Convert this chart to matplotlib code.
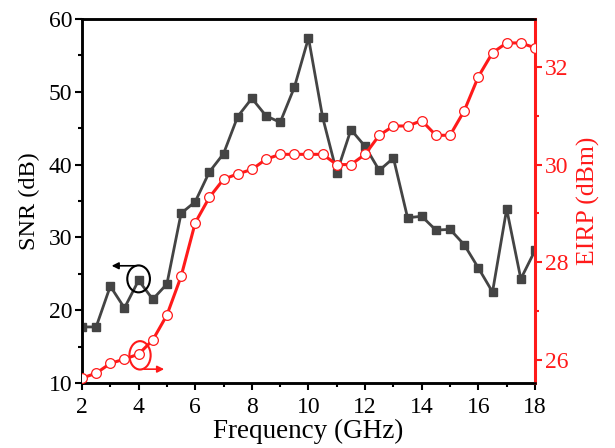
import matplotlib
matplotlib.use("Agg")
import matplotlib.pyplot as plt
from matplotlib.patches import Ellipse

plt.rcParams["font.family"] = ["Liberation Serif", "DejaVu Serif"]

freq = [2.0, 2.5, 3.0, 3.5, 4.0, 4.5, 5.0, 5.5, 6.0, 6.5, 7.0, 7.5, 8.0, 8.5, 9.0, 9.5,
        10.0, 10.5, 11.0, 11.5, 12.0, 12.5, 13.0, 13.5, 14.0, 14.5, 15.0, 15.5, 16.0,
        16.5, 17.0, 17.5, 18.0]
snr = [17.7, 17.7, 23.3, 20.3, 24.1, 21.5, 23.6, 33.3, 34.9, 39.0, 41.5, 46.6, 49.1,
       46.7, 45.8, 50.6, 57.4, 46.5, 38.9, 44.8, 42.5, 39.2, 40.9, 32.7, 32.9, 31.0,
       31.1, 29.0, 25.8, 22.5, 33.9, 24.3, 28.2]
eirp = [25.63, 25.73, 25.93, 26.02, 26.12, 26.41, 26.92, 27.71, 28.81, 29.33, 29.70,
        29.81, 29.90, 30.11, 30.21, 30.21, 30.21, 30.21, 30.00, 30.00, 30.21, 30.60,
        30.79, 30.79, 30.90, 30.60, 30.60, 31.10, 31.80, 32.29, 32.49, 32.49, 32.39]

RED = "#ff1a1a"
GRAY = "#444444"

fig = plt.figure(figsize=(6.15, 4.48), dpi=100)
ax = fig.add_axes([0.1333, 0.1451, 0.7366, 0.8125])
ax2 = ax.twinx()

ax.plot(freq, snr, color=GRAY, lw=2, marker="s", ms=6, mfc=GRAY, mec=GRAY, zorder=3)
ax2.plot(freq, eirp, color=RED, lw=2.2, marker="o", ms=7, mfc="white", mec=RED,
         mew=0.9, zorder=3)

ax.set_xlim(2, 18)
ax.set_ylim(10, 60)
ax2.set_ylim(25.53, 32.98)
ax.set_xticks(range(2, 19, 2))
ax.set_xticks(range(2, 19, 1), minor=True)
ax.set_yticks(range(10, 61, 10))
ax.set_yticks(range(10, 61, 5), minor=True)
ax2.set_yticks([26, 28, 30, 32])
ax2.set_yticks([26, 27, 28, 29, 30, 31, 32], minor=True)

ax.set_xlabel("Frequency (GHz)", fontsize=19.5, labelpad=1)
ax.set_ylabel("SNR (dB)", fontsize=17.5, labelpad=6)
ax2.set_ylabel("EIRP (dBm)", fontsize=18.5, color=RED, labelpad=6)

for a in (ax, ax2):
    a.tick_params(which="major", direction="out", length=5, width=1.5, labelsize=17, pad=2)
    a.tick_params(which="minor", direction="out", length=3, width=1.5)
    for s in a.spines.values():
        s.set_linewidth(1.8)
ax.tick_params(axis="x", which="major", pad=5)
ax2.tick_params(axis="y", which="both", colors=RED)
ax2.spines["right"].set_color(RED)
ax2.spines["right"].set_linewidth(2.2)

# black marker: SNR belongs to the left axis
ax.add_patch(Ellipse((4.0, 24.3), 0.8, 3.7, fill=False, ec="black", lw=1.5, zorder=4))
ax.annotate("", xy=(2.95, 26.1), xytext=(4.0, 26.1),
            arrowprops=dict(arrowstyle="-|>", color="black", lw=1.2, mutation_scale=10))
# red marker: EIRP belongs to the right axis
ax.add_patch(Ellipse((4.05, 13.8), 0.75, 3.9, fill=False, ec=RED, lw=1.5, zorder=4))
ax.annotate("", xy=(5.0, 11.9), xytext=(4.1, 11.9),
            arrowprops=dict(arrowstyle="-|>", color=RED, lw=1.2, mutation_scale=10))

fig.savefig("out.png", dpi=100)
